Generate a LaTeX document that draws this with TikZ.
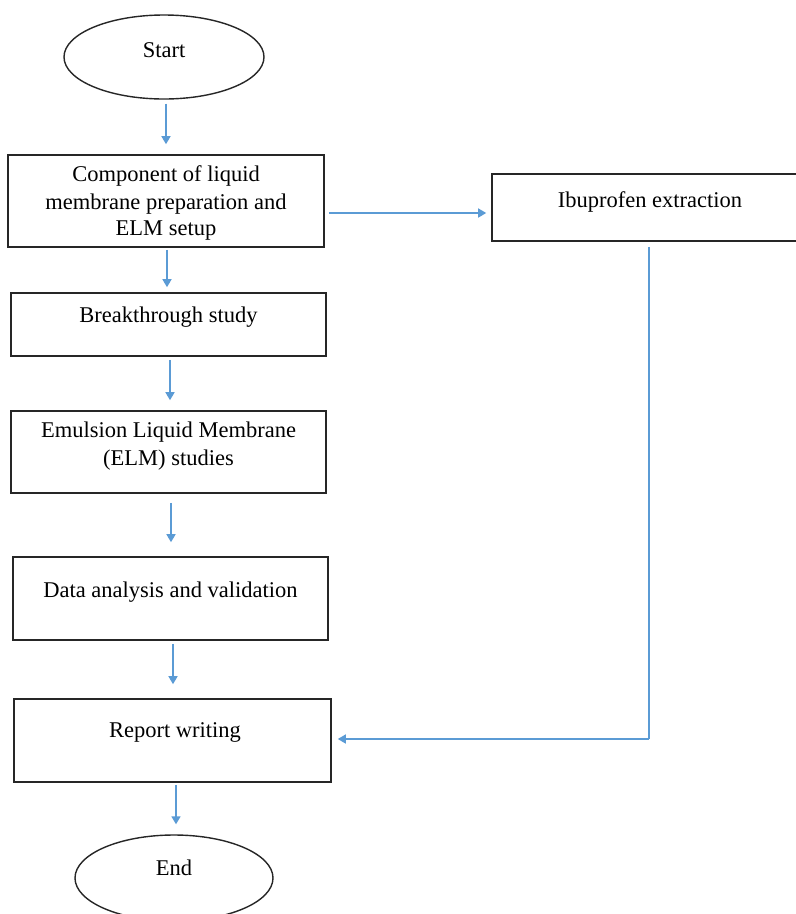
\documentclass[tikz,border=0pt]{standalone}
\usepackage{fontspec}
\setmainfont{Liberation Serif}
\usetikzlibrary{shapes.geometric,arrows.meta}
\definecolor{arrblue}{HTML}{5B9BD5}
\tikzset{
  procbox/.style={draw=black!85, line width=1.6pt, rectangle, inner sep=0pt},
  termshape/.style={draw=black!85, line width=1.4pt, ellipse, inner sep=0pt},
  lbl/.style={font=\fontsize{22.5}{28}\selectfont, inner sep=0pt, anchor=center},
  arr/.style={draw=arrblue, line width=1.5pt, -{Triangle[length=8pt,width=9pt]}},
  flowline/.style={draw=arrblue, line width=1.5pt}
}
\begin{document}
\begin{tikzpicture}[x=1pt,y=-1pt]
\path[use as bounding box, clip] (0,0) rectangle (796,914);
\fill[white] (0,0) rectangle (796,914);
% shapes
\node[termshape, minimum width=200pt, minimum height=84pt] (start) at (164,57) {};
\node[lbl] (startT) at (164,50) {Start};
\node[procbox, minimum width=316pt, minimum height=92pt] (b1) at (166,201) {};
\node[lbl] (b1a) at (166,176) {Component of liquid};
\node[lbl] (b1b) at (166,204) {membrane preparation and};
\node[lbl] (b1c) at (166,231) {ELM setup};
\node[procbox, minimum width=315pt, minimum height=63pt] (b2) at (168.5,324.5) {};
\node[lbl] (b2T) at (168.5,317) {Breakthrough study};
\node[procbox, minimum width=315pt, minimum height=82pt] (b3) at (168.5,452) {};
\node[lbl] (b3a) at (168.5,432) {Emulsion Liquid Membrane};
\node[lbl] (b3b) at (168.5,460) {(ELM) studies};
\node[procbox, minimum width=315pt, minimum height=83pt] (b4) at (170.5,598.5) {};
\node[lbl] (b4T) at (170.5,592) {Data analysis and validation};
\node[procbox, minimum width=317pt, minimum height=83pt] (b5) at (172.5,740.5) {};
\node[lbl] (b5T) at (175,732) {Report writing};
\node[termshape, minimum width=198pt, minimum height=86pt] (end) at (174,878) {};
\node[lbl] (endT) at (174,868) {End};
\node[procbox, minimum width=312pt, minimum height=67pt] (ibu) at (648,207.5) {};
\node[lbl] (ibuT) at (650,202) {Ibuprofen extraction};
% connectors
\draw[arr, shorten <=4pt, shorten >=10pt] ([xshift=2pt]start.south) -- ([xshift=2pt]start.south |- b1.north);
\draw[arr, shorten <=2pt, shorten >=5pt] ([xshift=1pt]b1.south) -- ([xshift=1pt]b1.south |- b2.north);
\draw[arr, shorten <=3pt, shorten >=10pt] ([xshift=1.5pt]b2.south) -- ([xshift=1.5pt]b2.south |- b3.north);
\draw[arr, shorten <=9pt, shorten >=14pt] ([xshift=2.5pt]b3.south) -- ([xshift=2.5pt]b3.south |- b4.north);
\draw[arr, shorten <=3pt, shorten >=14pt] ([xshift=2.5pt]b4.south) -- ([xshift=2.5pt]b4.south |- b5.north);
\draw[arr, shorten <=2pt, shorten >=10pt] ([xshift=3.5pt]b5.south) -- ([xshift=3.5pt]b5.south |- end.north);
\draw[arr, shorten <=4pt, shorten >=5pt] ([yshift=-12pt]b1.east) -- ([yshift=-12pt]b1.east -| ibu.west);
\coordinate (corner) at (649,739);
\draw[flowline, shorten <=5pt] (ibu.south -| corner) -- (corner);
\draw[arr, shorten >=6pt] (corner) -- (corner -| b5.east);
\end{tikzpicture}
\end{document}
